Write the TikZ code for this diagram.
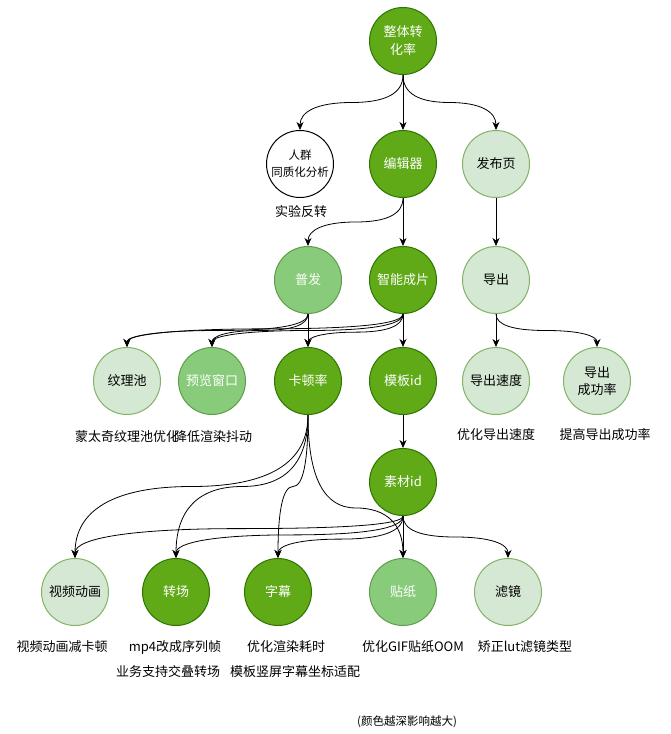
\documentclass[tikz,border=0pt]{standalone}
\usepackage{fontspec}
\setmainfont{Noto Sans CJK SC}
\usetikzlibrary{arrows.meta,calc}
\definecolor{dkfill}{HTML}{60A917}
\definecolor{dkline}{HTML}{2D7600}
\definecolor{mdfill}{HTML}{88CB7A}
\definecolor{mdline}{HTML}{5E9E4A}
\definecolor{ltfill}{HTML}{D5E8D4}
\definecolor{ltline}{HTML}{82B366}
\newcommand\myedge[3][0.5]{%
  \draw[edge] let \p1=(#2.south), \p2=(#3.north), \p3=($(#2.south)!#1!(#3.north)$) in
    (#2.south) .. controls (\x1,{\y1+2/3*(\y3-\y1)}) and ({\x1+(\x2-\x1)/6},\y3) .. ({(\x1+\x2)/2},\y3)
    .. controls ({\x2-(\x2-\x1)/6},\y3) and (\x2,{\y2+2/3*(\y3-\y2)}) .. (#3.north);}
\begin{document}
\begin{tikzpicture}[x=1pt,y=-1pt,
  every node/.style={font=\fontsize{13}{18}\selectfont},
  base/.style={circle,minimum size=67pt,inner sep=0pt,line width=1pt,align=center},
  dark/.style={base,fill=dkfill,draw=dkline,text=white},
  mid/.style={base,fill=mdfill,draw=mdline,text=white},
  light/.style={base,fill=ltfill,draw=ltline,text=black},
  plain/.style={base,fill=white,draw=black,text=black},
  lbl/.style={inner sep=0pt,align=center,text=black},
  edge/.style={draw=black,line width=0.8pt,-{Stealth[length=8pt,width=7pt,inset=2.5pt]}}]
\useasboundingbox[fill=white] (0,0) rectangle (670,734);

\node[dark] (top) at (403,41) {整体转\\化率};
\node[plain,font=\fontsize{11.5}{17}\selectfont] (crowd) at (300,164) {人群\\同质化分析};
\node[dark] (editor) at (403,164) {编辑器};
\node[light] (publish) at (496,164) {发布页};
\node[mid] (pufa) at (308,280) {普发};
\node[dark] (smart) at (403,280) {智能成片};
\node[light] (export) at (496,280) {导出};
\node[light] (texture) at (127,381) {纹理池};
\node[mid] (preview) at (212,381) {预览窗口};
\node[dark] (stutter) at (308,381) {卡顿率};
\node[dark] (tmpl) at (403,381) {模板id};
\node[light] (speed) at (496,381) {导出速度};
\node[light,font=\fontsize{13}{17}\selectfont] (success) at (597,381) {导出\\成功率};
\node[dark] (material) at (403,482) {素材id};
\node[light] (video) at (75,592) {视频动画};
\node[dark] (trans) at (176,592) {转场};
\node[dark] (subtitle) at (278,592) {字幕};
\node[mid] (sticker) at (403,592) {贴纸};
\node[light] (filter) at (508,592) {滤镜};

\node[lbl] (l1) at (301,212) {实验反转};
\node[lbl] (l2) at (127,437) {蒙太奇纹理池优化};
\node[lbl] (l3) at (213,437) {降低渲染抖动};
\node[lbl] (l4) at (496,435) {优化导出速度};
\node[lbl] (l5) at (605,435) {提高导出成功率};
\node[lbl] (l6) at (62,647) {视频动画减卡顿};
\node[lbl] (l7) at (175,647) {mp4改成序列帧};
\node[lbl] (l8) at (168,672) {业务支持交叠转场};
\node[lbl] (l9) at (286,647) {优化渲染耗时};
\node[lbl] (l10) at (295,672) {模板竖屏字幕坐标适配};
\node[lbl] (l11) at (413,647) {优化GIF贴纸OOM};
\node[lbl] (l12) at (525,647) {矫正lut滤镜类型};
\node[lbl,font=\fontsize{11.5}{14}\selectfont] (legend) at (407,722) {(颜色越深影响越大)};

\myedge{top}{crowd}
\draw[edge] (top) -- (editor);
\myedge{top}{publish}
\myedge{editor}{pufa}
\draw[edge] (editor) -- (smart);
\draw[edge] (publish) -- (export);
\myedge{pufa}{texture}
\myedge{pufa}{preview}
\draw[edge] (pufa) -- (stutter);
\myedge[0.45]{smart}{texture}
\myedge[0.5]{smart}{preview}
\myedge[0.55]{smart}{stutter}
\draw[edge] (smart) -- (tmpl);
\draw[edge] (export) -- (speed);
\myedge{export}{success}
\draw[edge] (tmpl) -- (material);
\myedge{stutter}{video}
\myedge{stutter}{trans}
\myedge{stutter}{subtitle}
\myedge[0.65]{stutter}{sticker}
\myedge[0.3]{material}{video}
\myedge[0.45]{material}{trans}
\myedge[0.55]{material}{subtitle}
\draw[edge] (material) -- (sticker);
\myedge{material}{filter}
\end{tikzpicture}
\end{document}
